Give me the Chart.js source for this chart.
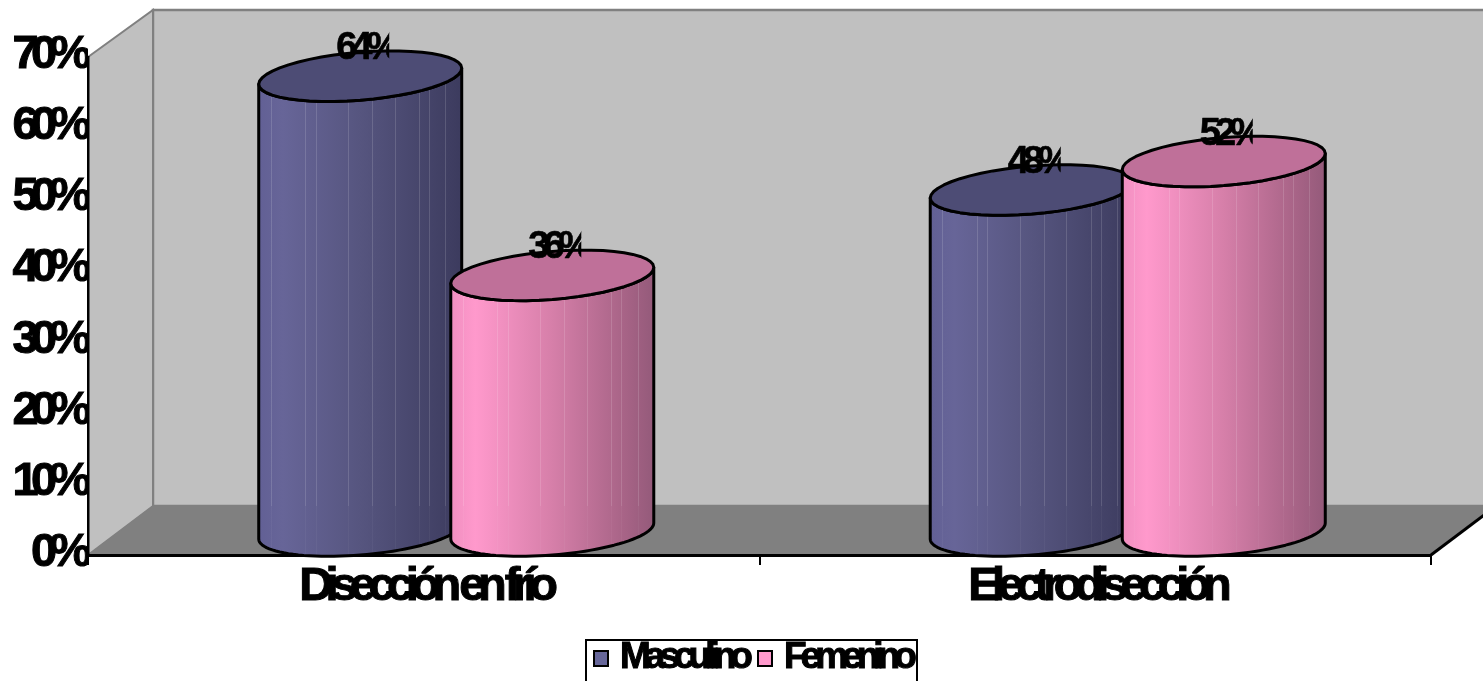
<!DOCTYPE html>
<html>
<head>
<meta charset="utf-8">
<title>Disección en frío / Electrodisección</title>
<script src="https://cdn.jsdelivr.net/npm/chart.js@4/dist/chart.umd.min.js"></script>
<style>
    html, body { margin: 0; padding: 0; background: #fff; overflow: hidden; }
    canvas { display: block; }
</style>
</head>
<body>
<canvas id="canvasChart" width="1483" height="681"></canvas>
<script>
var categories = ["Disección en frío", "Electrodisección"];
var masculino = [64, 48];
var femenino = [36, 52];
var yTicks = [0, 10, 20, 30, 40, 50, 60, 70];

var seriesNames = ["Masculino", "Femenino"];
var FONT = "'Liberation Sans', Arial, sans-serif";

// depth of the box the chart sits in
var DEPTH_X = 65;
var DEPTH_Y = 49;
// tilt of the cylinder ends
var TILT = 8;
var CAP_B = 24;

var cylinderStyles = [
    {
        top: "#4d4c75",
        swatch: "#666699",
        stops: [[0, "#626095"], [0.12, "#676598"], [0.5, "#56557f"], [1, "#3c3b5e"]]
    },
    {
        top: "#bf7099",
        swatch: "#ff99cc",
        stops: [[0, "#f08fc0"], [0.12, "#ff99cc"], [0.5, "#d67fa9"], [0.85, "#a86487"], [1, "#945a7a"]]
    }
];
// faint seams on the cylinder sides, as fraction of the width
var seams = [0.06, 0.23, 0.28, 0.44, 0.56, 0.67, 0.79, 0.84, 0.92];

function polygon(ctx, pts, fill, stroke, lineWidth) {
    ctx.beginPath();
    ctx.moveTo(pts[0][0], pts[0][1]);
    for (var i = 1; i < pts.length; i++) {
        ctx.lineTo(pts[i][0], pts[i][1]);
    }
    ctx.closePath();
    ctx.fillStyle = fill;
    ctx.fill();
    ctx.strokeStyle = stroke;
    ctx.lineWidth = lineWidth;
    ctx.stroke();
}

// adds a piece of the tilted ellipse to the current path
function capArc(ctx, cx, cy, a, from, to) {
    var steps = 48;
    for (var i = 0; i <= steps; i++) {
        var t = from + (to - from) * i / steps;
        var x = cx + a * Math.cos(t);
        var y = cy + CAP_B * Math.sin(t) - TILT * Math.cos(t);
        ctx.lineTo(x, y);
    }
}

function sidePath(ctx, cx, yTop, yBase, a) {
    ctx.beginPath();
    ctx.moveTo(cx - a, yTop + TILT);
    capArc(ctx, cx, yBase, a, Math.PI, 0);
    capArc(ctx, cx, yTop, a, 0, Math.PI);
    ctx.closePath();
}

function drawCylinder(ctx, cx, yTop, yBase, a, style, floorY) {
    var grad = ctx.createLinearGradient(cx - a, 0, cx + a, 0);
    style.stops.forEach(function(s) {
        grad.addColorStop(s[0], s[1]);
    });

    sidePath(ctx, cx, yTop, yBase, a);
    ctx.fillStyle = grad;
    ctx.fill();

    ctx.save();
    ctx.clip();
    seams.forEach(function(f) {
        var x = Math.round(cx - a + f * 2 * a) + 0.5;
        ctx.lineWidth = 1;
        ctx.strokeStyle = "rgba(255,255,255,0.14)";
        ctx.beginPath();
        ctx.moveTo(x, yTop - CAP_B);
        ctx.lineTo(x, floorY);
        ctx.stroke();
        ctx.strokeStyle = "rgba(255,255,255,0.04)";
        ctx.beginPath();
        ctx.moveTo(x, floorY);
        ctx.lineTo(x, yBase + CAP_B);
        ctx.stroke();
    });
    ctx.restore();

    sidePath(ctx, cx, yTop, yBase, a);
    ctx.strokeStyle = "#000";
    ctx.lineWidth = 3;
    ctx.lineJoin = "round";
    ctx.stroke();

    ctx.beginPath();
    capArc(ctx, cx, yTop, a, 0, Math.PI * 2);
    ctx.closePath();
    ctx.fillStyle = style.top;
    ctx.fill();
    ctx.stroke();
}

var box3d = {
    id: "box3d",
    beforeLayout: function(chart) {
        chart.ctx.letterSpacing = "-7.5px";
    },
    beforeDraw: function(chart) {
        var ctx = chart.ctx;
        var a = chart.chartArea;
        var dx = DEPTH_X, dy = DEPTH_Y;
        ctx.save();
        ctx.lineJoin = "miter";
        // back wall
        polygon(ctx, [[a.left + dx, a.top - dy + 2], [a.right + dx, a.top - dy + 2], [a.right + dx, a.bottom - dy], [a.left + dx, a.bottom - dy]], "#c0c0c0", "#808080", 2.5);
        // side wall
        polygon(ctx, [[a.left, a.top], [a.left + dx, a.top - dy + 2], [a.left + dx, a.bottom - dy], [a.left, a.bottom]], "#c0c0c0", "#808080", 2);
        // floor
        polygon(ctx, [[a.left, a.bottom], [a.left + dx, a.bottom - dy], [a.right + dx, a.bottom - dy], [a.right, a.bottom]], "#808080", "#808080", 1);
        // front edge of the floor
        ctx.strokeStyle = "#000";
        ctx.lineWidth = 3;
        ctx.beginPath();
        ctx.moveTo(a.right, a.bottom);
        ctx.lineTo(a.right + dx, a.bottom - dy);
        ctx.stroke();
        ctx.restore();
    },
    afterDatasetsDraw: function(chart) {
        var ctx = chart.ctx;
        var floorY = chart.chartArea.bottom - DEPTH_Y;
        var dx = DEPTH_X / 2;
        var dy = DEPTH_Y / 2 - 1;
        ctx.save();
        chart.data.datasets.forEach(function(ds, i) {
            chart.getDatasetMeta(i).data.forEach(function(bar) {
                drawCylinder(ctx, bar.x + dx, bar.y - dy, bar.base - dy, bar.width / 2, cylinderStyles[i], floorY);
            });
        });
        // value labels, cut off on the right by their own cell
        ctx.fillStyle = "#000";
        ctx.strokeStyle = "#000";
        ctx.lineWidth = 0.6;
        ctx.font = "bold 38px " + FONT;
        ctx.letterSpacing = "-6px";
        ctx.textAlign = "center";
        ctx.textBaseline = "alphabetic";
        chart.data.datasets.forEach(function(ds, i) {
            chart.getDatasetMeta(i).data.forEach(function(bar, j) {
                var cx = bar.x + dx;
                var y = bar.y - dy - 17;
                ctx.save();
                ctx.beginPath();
                ctx.rect(cx - 40, y - 40, 69, 60);
                ctx.clip();
                ctx.fillText(ds.data[j] + "%", cx + 5, y);
                ctx.strokeText(ds.data[j] + "%", cx + 5, y);
                ctx.restore();
            });
        });
        ctx.restore();
    },
    afterDraw: function(chart) {
        // legend: frame runs off the bottom of the canvas
        var ctx = chart.ctx;
        ctx.save();
        ctx.strokeStyle = "#000";
        ctx.lineWidth = 2;
        ctx.strokeRect(586, 640, 331, 60);
        ctx.font = "bold 37px " + FONT;
        ctx.letterSpacing = "-6px";
        ctx.textBaseline = "alphabetic";
        ctx.textAlign = "left";
        var swatchX = [594, 758];
        seriesNames.forEach(function(name, i) {
            ctx.fillStyle = cylinderStyles[i].swatch;
            ctx.fillRect(swatchX[i], 651, 14, 15);
            ctx.strokeStyle = "#000";
            ctx.lineWidth = 2;
            ctx.strokeRect(swatchX[i], 651, 14, 15);
            ctx.fillStyle = "#000";
            ctx.lineWidth = 1;
            ctx.fillText(name, swatchX[i] + 26, 668);
            ctx.strokeText(name, swatchX[i] + 26, 668);
        });
        ctx.restore();
    }
};

new Chart(document.getElementById("canvasChart").getContext("2d"), {
    type: "bar",
    data: {
        labels: categories,
        datasets: [
            {
                label: seriesNames[0],
                data: masculino,
                backgroundColor: "transparent",
                categoryPercentage: 0.572,
                barPercentage: 1.057
            },
            {
                label: seriesNames[1],
                data: femenino,
                backgroundColor: "transparent",
                categoryPercentage: 0.572,
                barPercentage: 1.057
            }
        ]
    },
    options: {
        responsive: false,
        animation: false,
        layout: {
            padding: { top: 57, right: 52, bottom: 0, left: 0 }
        },
        plugins: {
            legend: { display: false },
            tooltip: { enabled: false }
        },
        scales: {
            x: {
                afterFit: function(scale) {
                    scale.height = 126;
                },
                grid: {
                    drawOnChartArea: false,
                    color: "#000",
                    lineWidth: 2,
                    tickLength: 10
                },
                border: { color: "#000", width: 3 },
                ticks: {
                    color: "#000",
                    maxRotation: 0,
                    padding: -6,
                    labelOffset: 1,
                    textStrokeColor: "#000",
                    textStrokeWidth: 1,
                    font: { family: FONT, size: 47, weight: "bold" }
                }
            },
            y: {
                min: 0,
                max: 70,
                afterFit: function(scale) {
                    scale.width = 88;
                },
                afterBuildTicks: function(scale) {
                    scale.ticks = yTicks.map(function(v) {
                        return { value: v };
                    });
                },
                grid: {
                    drawOnChartArea: false,
                    drawTicks: false
                },
                border: { color: "#000", width: 2.5 },
                ticks: {
                    color: "#000",
                    padding: 4,
                    labelOffset: -2,
                    textStrokeColor: "#000",
                    textStrokeWidth: 1,
                    font: { family: FONT, size: 47, weight: "bold" },
                    callback: function(value) {
                        return value + "%";
                    }
                }
            }
        }
    },
    plugins: [box3d]
});
</script>
</body>
</html>
